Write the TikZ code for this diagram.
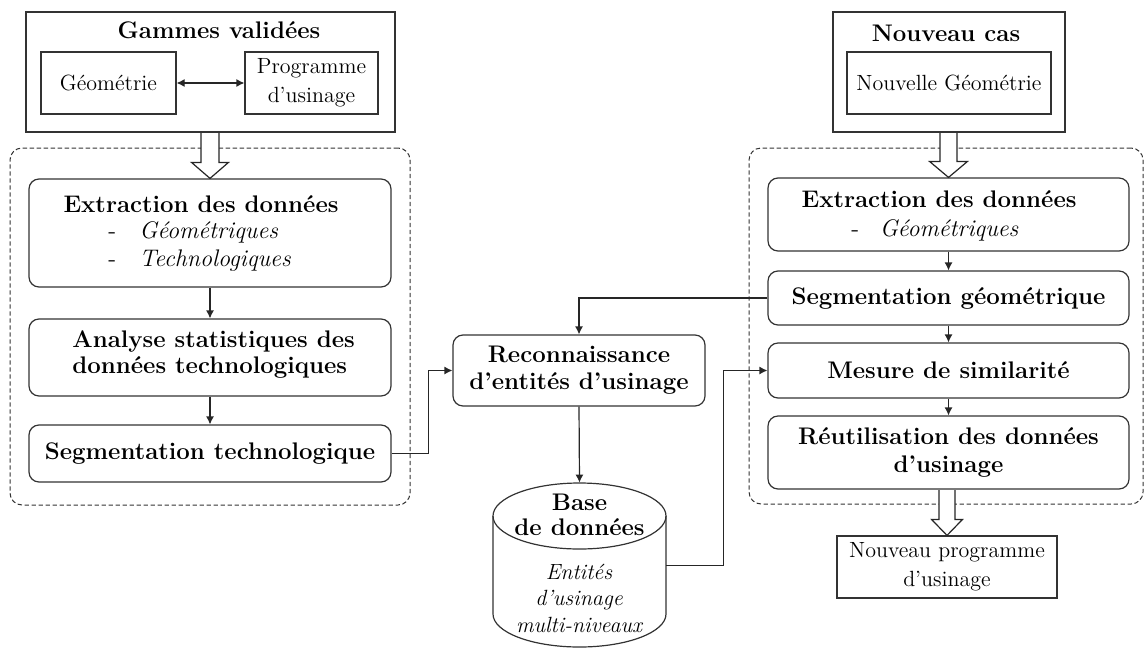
\documentclass[tikz,border=0pt]{standalone}
\usetikzlibrary{arrows.meta,calc}
\newcommand{\myBold}{\fontsize{12}{13}\selectfont\bfseries}
\newcommand{\myHollow}[5]{%
  \draw[harrow] let \p1=(#1), \p2=(#2) in
    (\x2-#3,\y1-0.3pt) -- (\x2-#3,\y2+#5) -- (\x2-#4,\y2+#5) -- (\x2,\y2)
    -- (\x2+#4,\y2+#5) -- (\x2+#3,\y2+#5) -- (\x2+#3,\y1-0.3pt);}
\begin{document}
\begin{tikzpicture}[x=0.5pt,y=-0.5pt,
  font=\fontsize{11}{14.5}\selectfont,
  sqbox/.style={draw=black!80, line width=0.6pt, inner sep=0pt, align=center},
  rbox/.style={draw=black!80, line width=0.6pt, rounded corners=5pt, inner sep=0pt, align=center},
  txt/.style={inner sep=0pt, align=center},
  btxt/.style={txt, font=\myBold},
  conn/.style={draw=black!85, line width=0.6pt, -{Latex[length=4pt,width=4pt]}},
  dconn/.style={draw=black!85, line width=0.6pt, {Latex[length=4pt,width=4pt]}-{Latex[length=4pt,width=4pt]}},
  harrow/.style={draw=black!85, fill=white, line width=0.6pt, line join=miter},
  grp/.style={draw=black!80, line width=0.5pt, dash pattern=on 2.2pt off 1.3pt, rounded corners=6pt, inner sep=0pt},
  dbline/.style={draw=black!80, line width=0.6pt}]

\useasboundingbox (0,0) rectangle (1144,648);

% dashed groups
\node[grp, minimum width=200pt, minimum height=178.5pt] (grpL) at (210,326.5) {};
\node[grp, minimum width=197pt, minimum height=178pt] (grpR) at (946,326) {};

% ---- left top: Gammes validees
\node[sqbox, minimum width=184.5pt, minimum height=60pt] (gam) at (210.5,72) {};
\node[btxt] (gamT) at (219,30) {Gammes validées};
\node[sqbox, minimum width=67.5pt, minimum height=31pt] (geo) at (108.5,83) {Géométrie};
\node[sqbox, minimum width=66.5pt, minimum height=31pt] (prog) at (311.5,83) {Programme\\d’usinage};
\draw[dconn] (geo.east) -- (prog.west);

% ---- left column
\node[rbox, minimum width=181pt, minimum height=54pt] (ext1) at (210,233) {};
\node[btxt] (ext1T) at (201,204) {Extraction des données};
\node[txt, anchor=west, align=left, font=\fontsize{12}{14}\selectfont] (ext1L) at (108,246)
  {\makebox[15.5pt][l]{-}\textit{Géométriques}\\\makebox[15.5pt][l]{-}\textit{Technologiques}};
\node[rbox, minimum width=181pt, minimum height=38.5pt] (ana) at (210,357.5) {};
\node[btxt, anchor=west, align=left] (anaT) at (72,355) {Analyse statistiques des\\données technologiques};
\node[rbox, minimum width=181pt, minimum height=28.5pt, font=\myBold] (segT) at (210,453.5) {Segmentation technologique};

% ---- middle
\node[rbox, minimum width=126pt, minimum height=35.5pt, font=\fontsize{12}{13.5}\selectfont\bfseries] (rec) at (579,370.5) {Reconnaissance\\d’entités d’usinage};
\node[inner sep=0pt, minimum width=86.5pt, minimum height=82.5pt] (db) at (579.5,565.5) {};
\draw[dbline] (493,516) -- (493,614) arc[start angle=180, end angle=360, x radius=43.25pt, y radius=16.5pt] -- (666,516);
\draw[dbline] (579.5,516) ellipse [x radius=43.25pt, y radius=16.5pt];
\node[txt, font=\fontsize{12}{12.5}\selectfont\bfseries] (dbT) at (579.5,514.5) {Base\\de données};
\node[txt, font=\fontsize{11}{13.25}\selectfont\itshape] (dbL) at (579,598) {Entités\\d’usinage\\multi-niveaux};

% ---- right top: Nouveau cas
\node[sqbox, minimum width=116pt, minimum height=60pt] (nc) at (949,72) {};
\node[btxt] (ncT) at (946,33) {Nouveau cas};
\node[sqbox, minimum width=102pt, minimum height=31pt] (ng) at (949,83) {Nouvelle Géométrie};

% ---- right column
\node[rbox, minimum width=180.5pt, minimum height=36.5pt] (ext2) at (948.5,214.5) {};
\node[btxt] (ext2T) at (939,199) {Extraction des données};
\node[txt, anchor=west, align=left, font=\fontsize{12}{14}\selectfont] (ext2L) at (851,230)
  {\makebox[14.2pt][l]{-}\textit{Géométriques}};
\node[rbox, minimum width=180.5pt, minimum height=27pt, font=\myBold] (segG) at (948.5,298) {Segmentation géométrique};
\node[rbox, minimum width=180.5pt, minimum height=27.5pt, font=\myBold] (mes) at (948.5,370.5) {Mesure de similarité};
\node[rbox, minimum width=180.5pt, minimum height=36.5pt, font=\fontsize{12}{14}\selectfont\bfseries] (reu) at (948.5,452.5) {Réutilisation des données\\d’usinage};
\node[sqbox, minimum width=110pt, minimum height=31pt] (np) at (947,567) {Nouveau programme\\d’usinage};

% ---- hollow arrows
\myHollow{gam.south}{ext1.north}{4.5pt}{9.25pt}{8pt}
\myHollow{nc.south}{ext2.north}{4.25pt}{9.5pt}{8pt}
\myHollow{reu.south}{np.north}{4pt}{7.75pt}{8pt}

% ---- connectors
\draw[conn] (ext1.south) -- (ana.north);
\draw[conn] (ana.south) -- (segT.north);
\draw[conn] (segT.east) -- ++(18.5pt,0) |- (rec.west);
\draw[conn] (segG.west) -| (rec.north);
\draw[conn] (rec.south) -- (db.north);
\draw[conn] (db.east) -- ++(28.5pt,0) |- (mes.west);
\draw[conn] (ext2.south) -- (segG.north);
\draw[conn] (segG.south) -- (mes.north);
\draw[conn] (mes.south) -- (reu.north);
\end{tikzpicture}
\end{document}
